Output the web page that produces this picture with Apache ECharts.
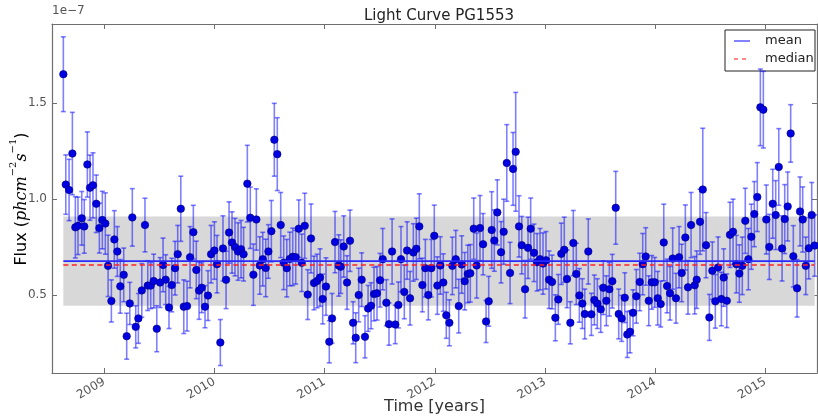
<!DOCTYPE html>
<html>
<head>
<meta charset="utf-8">
<title>Light Curve PG1553</title>
<script src="https://cdn.jsdelivr.net/npm/echarts@6.0.0/dist/echarts.min.js"></script>
<style>
  html, body { margin: 0; padding: 0; background: #fff; }
  #chart { width: 818px; height: 418px; }
</style>
</head>
<body>
<div id="chart"></div>
<script>
// Observation times in decimal years
const times = [
  2008.628, 2008.650, 2008.680, 2008.710, 2008.737, 2008.761, 2008.795, 2008.818, 2008.846, 2008.870,
  2008.897, 2008.927, 2008.955, 2008.982, 2009.009, 2009.034, 2009.064, 2009.091, 2009.118, 2009.145,
  2009.176, 2009.203, 2009.231, 2009.254, 2009.285, 2009.309, 2009.340, 2009.369, 2009.394, 2009.421,
  2009.448, 2009.476, 2009.506, 2009.533, 2009.557, 2009.587, 2009.612, 2009.642, 2009.666, 2009.694,
  2009.721, 2009.751, 2009.778, 2009.808, 2009.835, 2009.860, 2009.884, 2009.914, 2009.941, 2009.969,
  2009.999, 2010.023, 2010.053, 2010.077, 2010.105, 2010.132, 2010.159, 2010.186, 2010.214, 2010.241,
  2010.264, 2010.298, 2010.325, 2010.353, 2010.380, 2010.411, 2010.438, 2010.465, 2010.489, 2010.516,
  2010.543, 2010.570, 2010.601, 2010.628, 2010.656, 2010.683, 2010.710, 2010.737, 2010.765, 2010.792,
  2010.819, 2010.846, 2010.876, 2010.903, 2010.931, 2010.958, 2010.982, 2011.012, 2011.042, 2011.067,
  2011.094, 2011.128, 2011.146, 2011.173, 2011.203, 2011.230, 2011.258, 2011.282, 2011.309, 2011.336,
  2011.366, 2011.394, 2011.421, 2011.448, 2011.475, 2011.503, 2011.527, 2011.560, 2011.584, 2011.612,
  2011.641, 2011.669, 2011.693, 2011.723, 2011.748, 2011.775, 2011.805, 2011.832, 2011.859, 2011.887,
  2011.914, 2011.941, 2011.968, 2011.995, 2012.023, 2012.050, 2012.077, 2012.104, 2012.132, 2012.159,
  2012.190, 2012.217, 2012.244, 2012.271, 2012.299, 2012.322, 2012.353, 2012.380, 2012.410, 2012.438,
  2012.465, 2012.489, 2012.516, 2012.540, 2012.567, 2012.601, 2012.625, 2012.653, 2012.683, 2012.710,
  2012.734, 2012.764, 2012.789, 2012.819, 2012.846, 2012.870, 2012.900, 2012.928, 2012.955, 2012.982,
  2013.009, 2013.037, 2013.064, 2013.094, 2013.121, 2013.148, 2013.175, 2013.200, 2013.230, 2013.257,
  2013.284, 2013.312, 2013.339, 2013.361, 2013.393, 2013.421, 2013.448, 2013.475, 2013.506, 2013.529,
  2013.557, 2013.584, 2013.611, 2013.642, 2013.669, 2013.696, 2013.724, 2013.747, 2013.772, 2013.799,
  2013.829, 2013.860, 2013.887, 2013.914, 2013.942, 2013.969, 2013.996, 2014.023, 2014.050, 2014.078,
  2014.108, 2014.135, 2014.159, 2014.189, 2014.217, 2014.241, 2014.274, 2014.298, 2014.326, 2014.359,
  2014.377, 2014.407, 2014.432, 2014.462, 2014.492, 2014.519, 2014.546, 2014.571, 2014.601, 2014.622,
  2014.650, 2014.679, 2014.707, 2014.737, 2014.764, 2014.791, 2014.818, 2014.846, 2014.873, 2014.900,
  2014.927, 2014.955, 2014.982, 2015.009, 2015.036, 2015.067, 2015.094, 2015.122, 2015.152, 2015.176,
  2015.203, 2015.230, 2015.254, 2015.288, 2015.315, 2015.339, 2015.367, 2015.394, 2015.421, 2015.448
];

// Flux in units of 1e-7 ph cm^-2 s^-1
const flux = [
  1.652, 1.076, 1.048, 1.238, 0.853, 0.861, 0.900, 0.858, 1.181, 1.060,
  1.072, 0.976, 0.849, 0.891, 0.873, 0.652, 0.469, 0.790, 0.727, 0.545,
  0.605, 0.285, 0.456, 0.905, 0.334, 0.378, 0.524, 0.865, 0.549, 0.549,
  0.573, 0.324, 0.565, 0.657, 0.580, 0.435, 0.552, 0.640, 0.713, 0.950,
  0.439, 0.442, 0.697, 0.828, 0.631, 0.523, 0.538, 0.439, 0.497, 0.713,
  0.732, 0.661, 0.252, 0.743, 0.579, 0.826, 0.774, 0.750, 0.727, 0.739,
  0.713, 1.081, 0.903, 0.606, 0.894, 0.654, 0.687, 0.641, 0.727, 0.833,
  1.310, 1.235, 0.865, 0.668, 0.640, 0.688, 0.699, 0.697, 0.846, 0.668,
  0.861, 0.502, 0.795, 0.563, 0.573, 0.591, 0.479, 0.544, 0.256, 0.378,
  0.776, 0.654, 0.648, 0.753, 0.565, 0.783, 0.355, 0.277, 0.500, 0.580,
  0.282, 0.430, 0.444, 0.505, 0.509, 0.577, 0.687, 0.460, 0.348, 0.727,
  0.346, 0.448, 0.687, 0.516, 0.732, 0.483, 0.722, 0.741, 0.858, 0.552,
  0.640, 0.500, 0.640, 0.809, 0.549, 0.654, 0.565, 0.394, 0.355, 0.652,
  0.687, 0.442, 0.659, 0.572, 0.610, 0.613, 0.846, 0.654, 0.849, 0.765,
  0.362, 0.467, 0.839, 0.784, 0.931, 0.723, 0.830, 1.189, 0.615, 1.158,
  1.247, 0.858, 0.760, 0.530, 0.746, 0.846, 0.720, 0.671, 0.687, 0.664,
  0.681, 0.580, 0.568, 0.381, 0.477, 0.715, 0.736, 0.584, 0.355, 0.771,
  0.610, 0.498, 0.455, 0.401, 0.727, 0.399, 0.474, 0.455, 0.425, 0.538,
  0.470, 0.530, 0.572, 0.955, 0.401, 0.378, 0.486, 0.294, 0.308, 0.407,
  0.493, 0.568, 0.661, 0.701, 0.470, 0.566, 0.566, 0.483, 0.453, 0.774,
  0.547, 0.509, 0.690, 0.483, 0.697, 0.615, 0.800, 0.540, 0.865, 0.551,
  0.580, 0.882, 1.050, 0.760, 0.383, 0.627, 0.467, 0.643, 0.479, 0.591,
  0.470, 0.814, 0.830, 0.661, 0.612, 0.652, 0.887, 0.687, 0.804, 0.922,
  1.011, 1.479, 1.467, 0.894, 0.751, 0.976, 0.917, 1.168, 0.743, 0.896,
  0.962, 1.343, 0.702, 0.535, 0.936, 0.894, 0.652, 0.744, 0.917, 0.758
];

// One-sigma flux uncertainties, same units
const fluxErr = [
  0.195, 0.155, 0.160, 0.215, 0.160, 0.150, 0.140, 0.140, 0.170, 0.170,
  0.170, 0.150, 0.130, 0.150, 0.160, 0.160, 0.110, 0.150, 0.130, 0.140,
  0.140, 0.120, 0.110, 0.150, 0.110, 0.130, 0.140, 0.140, 0.130, 0.120,
  0.140, 0.120, 0.130, 0.140, 0.130, 0.110, 0.140, 0.140, 0.150, 0.170,
  0.140, 0.130, 0.160, 0.140, 0.150, 0.150, 0.130, 0.110, 0.130, 0.150,
  0.150, 0.150, 0.120, 0.170, 0.150, 0.160, 0.160, 0.150, 0.150, 0.150,
  0.140, 0.200, 0.160, 0.160, 0.160, 0.150, 0.140, 0.150, 0.140, 0.160,
  0.190, 0.190, 0.170, 0.140, 0.150, 0.140, 0.150, 0.140, 0.150, 0.150,
  0.170, 0.130, 0.180, 0.140, 0.140, 0.150, 0.130, 0.150, 0.110, 0.130,
  0.160, 0.160, 0.140, 0.160, 0.140, 0.160, 0.110, 0.130, 0.140, 0.140,
  0.110, 0.120, 0.120, 0.140, 0.140, 0.140, 0.160, 0.120, 0.110, 0.170,
  0.100, 0.120, 0.170, 0.140, 0.150, 0.140, 0.150, 0.160, 0.170, 0.140,
  0.150, 0.130, 0.150, 0.160, 0.150, 0.150, 0.150, 0.120, 0.120, 0.150,
  0.150, 0.140, 0.150, 0.150, 0.150, 0.150, 0.160, 0.170, 0.170, 0.160,
  0.110, 0.130, 0.200, 0.160, 0.170, 0.160, 0.170, 0.200, 0.160, 0.190,
  0.310, 0.160, 0.150, 0.150, 0.160, 0.160, 0.150, 0.150, 0.160, 0.160,
  0.150, 0.150, 0.140, 0.120, 0.130, 0.160, 0.170, 0.150, 0.110, 0.170,
  0.160, 0.140, 0.130, 0.130, 0.170, 0.110, 0.130, 0.130, 0.120, 0.140,
  0.130, 0.140, 0.140, 0.190, 0.130, 0.120, 0.130, 0.120, 0.110, 0.120,
  0.140, 0.150, 0.160, 0.150, 0.130, 0.140, 0.130, 0.140, 0.120, 0.200,
  0.140, 0.140, 0.160, 0.130, 0.160, 0.150, 0.170, 0.140, 0.170, 0.150,
  0.150, 0.170, 0.320, 0.170, 0.120, 0.150, 0.140, 0.160, 0.140, 0.150,
  0.140, 0.170, 0.170, 0.150, 0.150, 0.150, 0.170, 0.160, 0.170, 0.170,
  0.180, 0.200, 0.200, 0.180, 0.170, 0.180, 0.180, 0.200, 0.170, 0.180,
  0.180, 0.150, 0.160, 0.150, 0.180, 0.170, 0.150, 0.160, 0.170, 0.160
];

// Summary statistics of the light curve (1e-7 units)
const meanFlux = 0.677;
const medianFlux = 0.657;
const stdBand = [0.444, 0.910];   // mean -/+ one standard deviation

// Axis ranges and tick labels
const xRange = [2008.525, 2015.469];
const yRange = [0.093, 1.914];
const yearTicks = [2009, 2010, 2011, 2012, 2013, 2014, 2015];
const fluxTicks = [0.5, 1.0, 1.5];

const tStart = times[0];
const tEnd = times[times.length - 1];

const chart = echarts.init(document.getElementById('chart'), null, { renderer: 'canvas' });

const FONT = 'DejaVu Sans';
const spineColor = '#6e6e6e';
const barColor = 'rgba(0, 0, 255, 0.5)';

function frameAxis(extra) {
  return Object.assign({
    type: 'value',
    axisLine: { show: true, onZero: false, lineStyle: { color: spineColor, width: 1.2 } },
    axisTick: { show: true, inside: true, length: 5, lineStyle: { color: spineColor, width: 1 } },
    splitLine: { show: false },
    axisLabel: { show: false }
  }, extra);
}

const option = {
  backgroundColor: '#ffffff',
  animation: false,
  title: {
    text: 'Light Curve PG1553',
    left: 434,
    top: 4,
    textAlign: 'center',
    textStyle: { fontFamily: FONT, fontSize: 15, fontWeight: 'normal', color: '#222' }
  },
  grid: { left: 52, right: 1, top: 24, bottom: 45, containLabel: false, outerBoundsMode: 'none' },
  xAxis: [
    frameAxis({
      position: 'bottom',
      min: xRange[0], max: xRange[1],
      axisTick: { show: true, inside: true, length: 5, customValues: yearTicks, lineStyle: { color: spineColor, width: 1 } },
      axisLabel: {
        show: true, customValues: yearTicks, rotate: 30, margin: 8,
        fontFamily: FONT, fontSize: 12, color: '#555',
        formatter: v => String(Math.round(v))
      },
      name: 'Time [years]',
      nameLocation: 'middle',
      nameGap: 26,
      nameMoveOverlap: false,
      nameTextStyle: { fontFamily: FONT, fontSize: 16, color: '#333', verticalAlign: 'top' }
    }),
    frameAxis({
      position: 'top',
      min: xRange[0], max: xRange[1],
      axisTick: { show: true, inside: true, length: 5, customValues: yearTicks, lineStyle: { color: spineColor, width: 1 } }
    })
  ],
  yAxis: [
    frameAxis({
      position: 'left',
      min: yRange[0], max: yRange[1],
      axisTick: { show: true, inside: true, length: 5, customValues: fluxTicks, lineStyle: { color: spineColor, width: 1 } },
      axisLabel: {
        show: true, customValues: fluxTicks, margin: 5,
        fontFamily: FONT, fontSize: 12, color: '#555',
        formatter: v => v.toFixed(1)
      }
    }),
    frameAxis({
      position: 'right',
      min: yRange[0], max: yRange[1],
      axisTick: { show: true, inside: true, length: 5, customValues: fluxTicks, lineStyle: { color: spineColor, width: 1 } }
    })
  ],
  graphic: [
    // axis offset text
    {
      type: 'text', x: 52, y: 11,
      style: { text: '1e\u22127', fontFamily: FONT, fontSize: 12, fill: '#555', align: 'left', verticalAlign: 'middle' }
    },
    // y axis label with math-style units
    {
      type: 'text', x: 19, y: 199, rotation: Math.PI / 2,
      style: {
        text: '{a|Flux (}{i|phcm}{s|\u22122}{i|s}{s|\u22121}{a|)}',
        align: 'center', verticalAlign: 'middle',
        rich: {
          a: { fontFamily: FONT, fontSize: 16, color: '#333', lineHeight: 22, verticalAlign: 'bottom' },
          i: { fontFamily: 'DejaVu Serif', fontStyle: 'italic', fontSize: 16, color: '#333', lineHeight: 22, verticalAlign: 'bottom' },
          s: { fontFamily: 'DejaVu Serif', fontSize: 10, color: '#333', lineHeight: 13, verticalAlign: 'top' }
        }
      }
    },
    // legend box
    {
      type: 'group', x: 725, y: 30,
      children: [
        { type: 'rect', shape: { x: 0, y: 0, width: 90, height: 41 }, style: { fill: '#fff', stroke: '#222', lineWidth: 1 } },
        { type: 'line', shape: { x1: 9, y1: 11, x2: 25, y2: 11 }, style: { stroke: 'rgba(30,30,255,0.85)', lineWidth: 1.3 } },
        { type: 'text', x: 40, y: 11, style: { text: 'mean', fontFamily: FONT, fontSize: 13, fill: '#222', verticalAlign: 'middle' } },
        { type: 'line', shape: { x1: 9, y1: 29, x2: 25, y2: 29 }, style: { stroke: 'rgba(255,40,40,0.85)', lineWidth: 1.3, lineDash: [4, 4] } },
        { type: 'text', x: 40, y: 29, style: { text: 'median', fontFamily: FONT, fontSize: 13, fill: '#222', verticalAlign: 'middle' } }
      ]
    }
  ],
  series: [
    {
      // one-sigma band around the mean
      type: 'custom',
      name: 'band',
      silent: true,
      z: 1,
      encode: { x: [0, 1], y: [2, 3] },
      data: [[tStart, tEnd, stdBand[0], stdBand[1]]],
      renderItem: function (params, api) {
        const p1 = api.coord([api.value(0), api.value(3)]);
        const p2 = api.coord([api.value(1), api.value(2)]);
        return {
          type: 'rect',
          shape: { x: p1[0], y: p1[1], width: p2[0] - p1[0], height: p2[1] - p1[1] },
          style: { fill: '#d8d8d8' }
        };
      }
    },
    {
      // error bars with caps
      type: 'custom',
      name: 'errors',
      silent: true,
      z: 2,
      encode: { x: 0, y: 1 },
      data: times.map((t, i) => [t, flux[i], fluxErr[i]]),
      renderItem: function (params, api) {
        const t = api.value(0), f = api.value(1), e = api.value(2);
        const top = api.coord([t, f + e]);
        const bot = api.coord([t, f - e]);
        const cap = 2.5;
        const st = { stroke: barColor, lineWidth: 1.6 };
        return {
          type: 'group',
          children: [
            { type: 'line', shape: { x1: top[0], y1: top[1], x2: bot[0], y2: bot[1] }, style: st },
            { type: 'line', shape: { x1: top[0] - cap, y1: top[1], x2: top[0] + cap, y2: top[1] }, style: st },
            { type: 'line', shape: { x1: bot[0] - cap, y1: bot[1], x2: bot[0] + cap, y2: bot[1] }, style: st }
          ]
        };
      }
    },
    {
      type: 'scatter',
      name: 'flux',
      z: 3,
      symbol: 'circle',
      symbolSize: 7.5,
      itemStyle: { color: '#0000e0', borderColor: '#00007a', borderWidth: 0.6, opacity: 1 },
      data: times.map((t, i) => [t, flux[i]])
    },
    {
      type: 'line',
      name: 'mean',
      z: 4,
      symbol: 'none',
      lineStyle: { color: '#2a2aff', width: 1.8 },
      data: [[tStart, meanFlux], [tEnd, meanFlux]]
    },
    {
      type: 'line',
      name: 'median',
      z: 4,
      symbol: 'none',
      lineStyle: { color: '#ff2020', width: 1.5, type: [5, 3.5] },
      data: [[tStart, medianFlux], [tEnd, medianFlux]]
    }
  ]
};

chart.setOption(option);
</script>
</body>
</html>
